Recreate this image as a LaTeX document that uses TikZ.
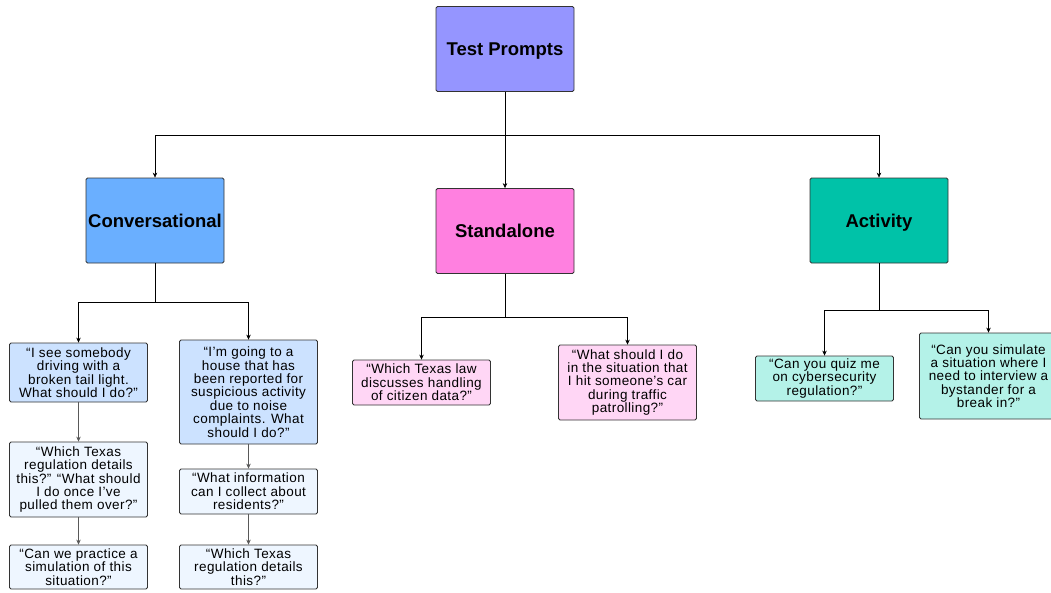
\documentclass[tikz,border=0pt]{standalone}
\usepackage{fontspec}
\setmainfont{Liberation Sans}
\newfontfamily\leaffont[LetterSpace=3]{Liberation Sans}
\usetikzlibrary{arrows.meta}

\definecolor{topfill}{RGB}{149,149,255}
\definecolor{convfill}{RGB}{106,175,255}
\definecolor{standfill}{RGB}{255,128,224}
\definecolor{actfill}{RGB}{0,194,168}
\definecolor{convleaf}{RGB}{204,226,255}
\definecolor{convsub}{RGB}{238,246,255}
\definecolor{standleaf}{RGB}{255,214,245}
\definecolor{actleaf}{RGB}{180,242,232}

\begin{document}
\begin{tikzpicture}[x=1pt,y=-1pt,
  catbox/.style={draw=black!80, line width=0.8pt, rounded corners=1.5pt,
    minimum width=138pt, minimum height=85pt, inner sep=0pt,
    text height=13.5pt, text depth=0pt,
    font=\fontsize{18.5}{20}\selectfont\bfseries},
  leafbox/.style={draw=black!80, line width=0.8pt, rounded corners=1.5pt,
    minimum width=138pt, inner sep=0pt, align=center,
    font=\leaffont\fontsize{13.5}{13.4}\selectfont},
  arr/.style={-{Stealth[length=5pt,width=4.5pt]}, line width=0.6pt},
  subarr/.style={arr, draw=black!65}]

\useasboundingbox (0,0) rectangle (1051,592);

\node[catbox, fill=topfill] (tp) at (505,49) {Test Prompts};
\node[catbox, fill=convfill] (conv) at (155,220.5) {Conversational};
\node[catbox, fill=standfill] (stand) at (505,231) {Standalone};
\node[catbox, fill=actfill] (act) at (879,220.5) {Activity};

\node[leafbox, fill=convleaf, minimum height=59pt] (c1) at (78.5,372.5)
  {“I see somebody\\driving with a\\broken tail light.\\What should I do?”};
\node[leafbox, fill=convsub, minimum height=75pt] (c1b) at (78.5,479.5)
  {“Which Texas\\regulation details\\this?” “What should\\I do once I’ve\\pulled them over?”};
\node[leafbox, fill=convsub, minimum height=44pt] (c1c) at (78.5,567)
  {“Can we practice a\\simulation of this\\situation?”};

\node[leafbox, fill=convleaf, minimum height=104pt] (c2) at (248.5,392)
  {“I’m going to a\\house that has\\been reported for\\suspicious activity\\due to noise\\complaints. What\\should I do?”};
\node[leafbox, fill=convsub, minimum height=45pt] (c2b) at (248.5,491.5)
  {“What information\\can I collect about\\residents?”};
\node[leafbox, fill=convsub, minimum height=44pt] (c2c) at (248.5,567)
  {“Which Texas\\regulation details\\this?”};

\node[leafbox, fill=standleaf, minimum height=45pt] (s1) at (421.5,382.5)
  {“Which Texas law\\discusses handling\\of citizen data?”};
\node[leafbox, fill=standleaf, minimum height=75pt] (s2) at (627.5,382.5)
  {“What should I do\\in the situation that\\I hit someone’s car\\during traffic\\patrolling?”};

\node[leafbox, fill=actleaf, minimum height=45pt] (a1) at (824.5,378.5)
  {“Can you quiz me\\on cybersecurity\\regulation?”};
\node[leafbox, fill=actleaf, minimum height=86pt] (a2) at (988.5,376)
  {“Can you simulate\\a situation where I\\need to interview a\\bystander for a\\break in?”};

\coordinate (tpj) at (505,135);
\coordinate (convj) at (155,302);
\coordinate (standj) at (505,317);
\coordinate (actj) at (879,310);

\draw[line width=0.6pt] (tp.south) -- (tpj);
\draw[arr] (tpj) -| (conv.north);
\draw[arr] (tpj) -- (stand.north);
\draw[arr] (tpj) -| (act.north);

\draw[line width=0.6pt] (conv.south) -- (convj);
\draw[arr] (convj) -| (c1.north);
\draw[arr] (convj) -| (c2.north);
\draw[subarr] (c1.south) -- (c1b.north);
\draw[subarr] (c1b.south) -- (c1c.north);
\draw[subarr] (c2.south) -- (c2b.north);
\draw[subarr] (c2b.south) -- (c2c.north);

\draw[line width=0.6pt] (stand.south) -- (standj);
\draw[arr] (standj) -| (s1.north);
\draw[arr] (standj) -| (s2.north);

\draw[line width=0.6pt] (act.south) -- (actj);
\draw[arr] (actj) -| (a1.north);
\draw[arr] (actj) -| (a2.north);

\end{tikzpicture}
\end{document}
